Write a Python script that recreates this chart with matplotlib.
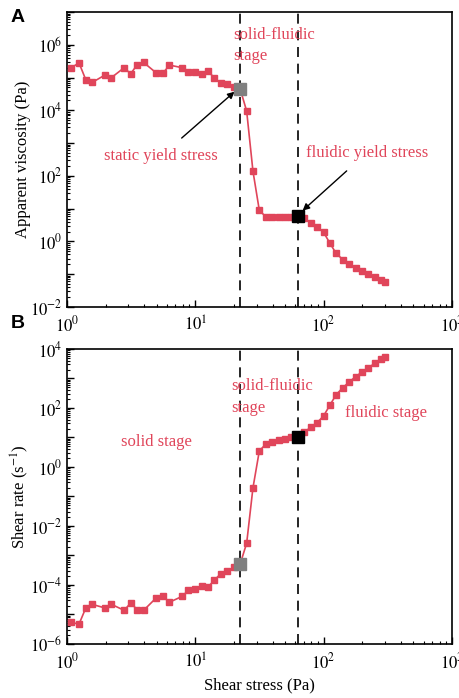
import matplotlib
matplotlib.use('Agg')
import matplotlib.pyplot as plt
import matplotlib.ticker as mticker
import numpy as np

plt.rcParams['font.family'] = ['Liberation Serif', 'DejaVu Serif']
plt.rcParams['mathtext.fontset'] = 'stix'

# shear stress (Pa)
stress = [1.08, 1.24, 1.40, 1.57, 1.98, 2.22, 2.79, 3.13, 3.53, 3.95,
          4.97, 5.60, 6.28, 7.88, 8.83, 9.96, 11.2, 12.5, 14.0, 15.7,
          17.7, 19.9, 22.3, 25.1, 28.1, 31.5, 35.3, 39.8, 44.6, 50.0,
          56.1, 62.5, 70.4, 79.4, 89.0, 99.8, 112, 125, 141, 158,
          177, 199, 223, 250, 280, 299]

# apparent viscosity (Pa)
viscosity = [2.0e5, 2.8e5, 8.6e4, 7.1e4, 1.2e5, 1.0e5, 2.0e5, 1.3e5, 2.5e5, 2.9e5,
             1.37e5, 1.37e5, 2.4e5, 2.0e5, 1.44e5, 1.44e5, 1.25e5, 1.58e5, 1.0e5, 6.8e4,
             6.2e4, 5.1e4, 4.6e4, 9.5e3, 1.4e2, 8.9, 5.7, 5.7, 5.6, 5.6,
             5.6, 5.9, 5.1, 3.7, 2.7, 1.9, 0.87, 0.43, 0.28, 0.21,
             0.16, 0.125, 0.098, 0.080, 0.065, 0.058]

# shear rate (1/s)
shear_rate = [5.4e-6, 4.7e-6, 1.66e-5, 2.2e-5, 1.66e-5, 2.2e-5, 1.38e-5, 2.45e-5, 1.45e-5, 1.38e-5,
              3.7e-5, 4.1e-5, 2.6e-5, 4.1e-5, 6.6e-5, 7.4e-5, 9.1e-5, 8.3e-5, 1.44e-4, 2.35e-4,
              2.96e-4, 3.95e-4, 5.0e-4, 2.6e-3, 0.195, 3.5, 5.9, 6.9, 8.1, 9.2,
              10.2, 10.7, 15.1, 22.3, 32, 54, 127, 282, 490, 760,
              1150, 1650, 2330, 3260, 4480, 5200]

static_idx = 22   # static yield stress point
fluidic_idx = 31  # fluidic yield stress point

red = '#E0455A'

fig = plt.figure(figsize=(4.6, 6.98), dpi=100)
axA = fig.add_axes([0.1457, 0.5602, 0.837, 0.4226])
axB = fig.add_axes([0.1457, 0.0774, 0.837, 0.4226])


def style_axis(ax, ymin, ymax):
    ax.set_xscale('log')
    ax.set_yscale('log')
    ax.set_xlim(1, 1000)
    ax.set_ylim(ymin, ymax)
    ax.xaxis.set_major_locator(mticker.LogLocator(base=10, numticks=10))
    ax.xaxis.set_minor_locator(mticker.LogLocator(base=10, subs=np.arange(2, 10), numticks=100))
    ax.xaxis.set_major_formatter(mticker.FuncFormatter(lambda v, p: r'$10^{%d}$' % round(np.log10(v))))
    ax.yaxis.set_major_locator(mticker.LogLocator(base=10, numticks=20))
    ax.yaxis.set_minor_locator(mticker.LogLocator(base=10, subs=np.arange(2, 10), numticks=100))

    def yfmt(v, p):
        e = int(round(np.log10(v)))
        return r'$10^{%d}$' % e if e % 2 == 0 else ''
    ax.yaxis.set_major_formatter(mticker.FuncFormatter(yfmt))
    ax.yaxis.set_minor_formatter(mticker.NullFormatter())
    ax.tick_params(which='both', direction='in', top=False, right=False, labelsize=12)
    ax.tick_params(which='major', length=5, width=1)
    ax.tick_params(which='minor', length=2.5, width=0.8)
    for s in ax.spines.values():
        s.set_linewidth(1.2)
    # yield stress boundaries
    for xv in (stress[static_idx], stress[fluidic_idx]):
        ax.axvline(xv, color='black', ls=(0, (6, 4)), lw=1.2, zorder=1)


# ---- panel A
style_axis(axA, 1e-2, 1e7)
axA.plot(stress, viscosity, color=red, lw=1.2, marker='s', ms=4, zorder=3)
axA.plot(stress[static_idx], viscosity[static_idx], 's', color='#808080', ms=8, zorder=4)
axA.plot(stress[fluidic_idx], viscosity[fluidic_idx], 's', color='black', ms=8, zorder=4)
axA.set_ylabel('Apparent viscosity (Pa)', fontsize=12, labelpad=-1)
axA.tick_params(axis='x', pad=6)

axA.text(19.8, 10**6.55, 'solid-fluidic\nstage', color=red, fontsize=12,
         ha='left', va='top', linespacing=1.45)
axA.annotate('static yield stress', xy=(20.2, 3.7e4), xytext=(5.4, 400),
             color=red, fontsize=12, ha='center', va='center',
             arrowprops=dict(arrowstyle='-|>', color='black', lw=1,
                             shrinkA=8, shrinkB=0, mutation_scale=10))
axA.annotate('fluidic yield stress', xy=(68.5, 8.7), xytext=(217, 510),
             color=red, fontsize=12, ha='center', va='center',
             arrowprops=dict(arrowstyle='-|>', color='black', lw=1,
                             shrinkA=8, shrinkB=0, mutation_scale=10))

# ---- panel B
style_axis(axB, 1e-6, 1e4)
axB.plot(stress, shear_rate, color=red, lw=1.2, marker='s', ms=4, zorder=3)
axB.plot(stress[static_idx], shear_rate[static_idx], 's', color='#808080', ms=8, zorder=4)
axB.plot(stress[fluidic_idx], shear_rate[fluidic_idx], 's', color='black', ms=8, zorder=4)
axB.set_ylabel('Shear rate (s$^{-1}$)', fontsize=12, labelpad=-1)
axB.set_xlabel('Shear stress (Pa)', fontsize=12)
axB.tick_params(axis='x', pad=6)

axB.text(19.1, 10**3.0, 'solid-fluidic\nstage', color=red, fontsize=12,
         ha='left', va='top', linespacing=1.45)
axB.text(5.0, 7, 'solid stage', color=red, fontsize=12, ha='center', va='center')
axB.text(305, 68, 'fluidic stage', color=red, fontsize=12, ha='center', va='center')

fig.text(18 / 460, 1 - 17 / 698, 'A', fontsize=14, fontweight='bold',
         family='Liberation Sans', ha='center', va='center')
fig.text(18 / 460, 1 - 323 / 698, 'B', fontsize=14, fontweight='bold',
         family='Liberation Sans', ha='center', va='center')

fig.savefig('out.png', dpi=100)
